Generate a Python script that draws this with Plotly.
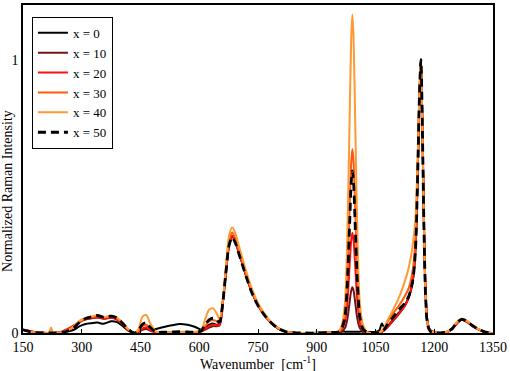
import plotly.graph_objects as go

# Wavenumber grid (cm^-1)
wavenumber = [
    150, 165, 180, 200, 215, 222, 226, 230, 250,
    265, 280, 295, 310, 325, 340, 355, 365, 375, 390, 405, 420, 435,
    445, 455, 465, 475, 490, 510, 530, 550, 570, 590, 605,
    615, 625, 635, 645, 652,
    660, 668, 676, 684, 692, 700, 710, 720, 735, 750, 765, 780, 800, 820, 840,
    870, 900, 930, 955,
    964, 972, 978, 984, 988, 991, 994, 998, 1004, 1010, 1018,
    1030, 1050, 1060, 1066, 1072,
    1080, 1095, 1110, 1125, 1135, 1145, 1152,
    1158, 1162, 1166, 1170, 1174, 1178, 1183, 1190, 1200,
    1215, 1230, 1245, 1258, 1270, 1282, 1295, 1310, 1325, 1340, 1350,
]

x0 = [
    0.012, 0.006, 0.002, 0.0, 0.0, 0.0, 0.0, 0.0, 0.002,
    0.006, 0.012, 0.025, 0.033, 0.036, 0.038, 0.034, 0.038, 0.043, 0.04, 0.025, 0.008, 0.0,
    0.004, 0.014, 0.02, 0.012, 0.015, 0.022, 0.028, 0.033, 0.03, 0.022, 0.012,
    0.02, 0.03, 0.035, 0.03, 0.035,
    0.11, 0.22, 0.32, 0.355, 0.335, 0.3, 0.255, 0.208, 0.148, 0.102, 0.068, 0.043, 0.018, 0.005, 0.001,
    0.0, 0.001, 0.003, 0.004,
    0.005, 0.005, 0.005, 0.005, 0.005, 0.005, 0.005, 0.005, 0.005, 0.005, 0.005,
    0.004, 0.004, 0.01, 0.035, 0.02,
    0.025, 0.05, 0.075, 0.102, 0.132, 0.19, 0.31,
    0.6, 0.86, 1.0, 0.73, 0.37, 0.14, 0.035, 0.008, 0.002,
    0.0, 0.003, 0.015, 0.038, 0.05, 0.044, 0.03, 0.016, 0.006, 0.001, 0.0,
]

x10 = [
    0.012, 0.007, 0.003, 0.001, 0.0, 0.0, 0.0, 0.0, 0.004,
    0.012, 0.024, 0.04, 0.05, 0.054, 0.057, 0.052, 0.054, 0.056, 0.049, 0.031, 0.01, 0.0,
    0.004, 0.012, 0.015, 0.008, 0.003, 0.003, 0.004, 0.004, 0.004, 0.003, 0.005,
    0.012, 0.02, 0.025, 0.025, 0.028,
    0.11, 0.22, 0.32, 0.355, 0.335, 0.3, 0.255, 0.208, 0.148, 0.102, 0.068, 0.043, 0.018, 0.005, 0.001,
    0.0, 0.0, 0.002, 0.004,
    0.006, 0.018, 0.05, 0.114, 0.155, 0.167, 0.155, 0.114, 0.05, 0.018, 0.005,
    0.002, 0.0, 0.002, 0.004, 0.01,
    0.02, 0.044, 0.07, 0.1, 0.13, 0.19, 0.31,
    0.6, 0.86, 1.0, 0.74, 0.38, 0.15, 0.04, 0.01, 0.003,
    0.0, 0.002, 0.013, 0.035, 0.048, 0.042, 0.028, 0.015, 0.005, 0.001, 0.0,
]

x20 = [
    0.012, 0.008, 0.004, 0.002, 0.0, 0.0, 0.0, 0.0, 0.006,
    0.016, 0.028, 0.042, 0.05, 0.055, 0.058, 0.053, 0.055, 0.057, 0.05, 0.032, 0.01, 0.0,
    0.005, 0.016, 0.02, 0.01, 0.003, 0.003, 0.004, 0.004, 0.004, 0.003, 0.006,
    0.015, 0.025, 0.03, 0.028, 0.03,
    0.11, 0.22, 0.32, 0.355, 0.335, 0.3, 0.255, 0.208, 0.148, 0.102, 0.068, 0.043, 0.018, 0.005, 0.001,
    0.0, 0.0, 0.002, 0.004,
    0.012, 0.04, 0.11, 0.25, 0.34, 0.367, 0.34, 0.25, 0.11, 0.04, 0.01,
    0.002, 0.0, 0.002, 0.004, 0.01,
    0.022, 0.048, 0.072, 0.1, 0.13, 0.19, 0.31,
    0.6, 0.86, 1.0, 0.74, 0.38, 0.15, 0.04, 0.01, 0.003,
    0.0, 0.002, 0.013, 0.035, 0.048, 0.042, 0.028, 0.015, 0.005, 0.001, 0.0,
]

x30 = [
    0.012, 0.006, 0.002, 0.0, 0.0, 0.0, 0.0, 0.0, 0.003,
    0.01, 0.022, 0.042, 0.054, 0.058, 0.062, 0.057, 0.059, 0.061, 0.054, 0.034, 0.011, 0.0,
    0.008, 0.025, 0.03, 0.016, 0.004, 0.003, 0.003, 0.004, 0.004, 0.003, 0.008,
    0.025, 0.042, 0.048, 0.042, 0.038,
    0.11, 0.23, 0.335, 0.368, 0.347, 0.31, 0.262, 0.215, 0.152, 0.105, 0.07, 0.044, 0.019, 0.005, 0.001,
    0.0, 0.0, 0.002, 0.004,
    0.02, 0.067, 0.2, 0.46, 0.625, 0.673, 0.625, 0.46, 0.2, 0.067, 0.017,
    0.002, 0.0, 0.002, 0.006, 0.015,
    0.038, 0.072, 0.1, 0.135, 0.165, 0.23, 0.34,
    0.62, 0.87, 1.0, 0.72, 0.36, 0.13, 0.03, 0.006, 0.002,
    0.0, 0.003, 0.015, 0.038, 0.05, 0.044, 0.03, 0.016, 0.006, 0.001, 0.0,
]

x40 = [
    0.012, 0.005, 0.002, 0.0, 0.0, 0.02, 0.0, 0.0, 0.003,
    0.01, 0.025, 0.045, 0.055, 0.06, 0.065, 0.058, 0.06, 0.063, 0.056, 0.036, 0.012, 0.0,
    0.015, 0.06, 0.065, 0.035, 0.005, 0.003, 0.003, 0.004, 0.004, 0.004, 0.01,
    0.05, 0.085, 0.09, 0.07, 0.05,
    0.12, 0.24, 0.355, 0.387, 0.365, 0.325, 0.275, 0.225, 0.16, 0.11, 0.075, 0.046, 0.02, 0.006, 0.001,
    0.0, 0.0, 0.002, 0.005,
    0.03, 0.11, 0.35, 0.79, 1.08, 1.165, 1.08, 0.79, 0.35, 0.11, 0.03,
    0.002, 0.0, 0.003, 0.008, 0.02,
    0.045, 0.085, 0.13, 0.19, 0.24, 0.32, 0.42,
    0.66, 0.88, 1.0, 0.73, 0.37, 0.14, 0.035, 0.008, 0.002,
    0.0, 0.003, 0.016, 0.04, 0.052, 0.046, 0.031, 0.017, 0.006, 0.001, 0.0,
]

x50 = [
    0.012, 0.006, 0.002, 0.0, 0.0, 0.0, 0.0, 0.0, 0.002,
    0.008, 0.02, 0.04, 0.053, 0.059, 0.064, 0.058, 0.06, 0.062, 0.055, 0.035, 0.012, 0.0,
    0.01, 0.032, 0.038, 0.02, 0.004, 0.003, 0.004, 0.005, 0.004, 0.003, 0.008,
    0.03, 0.048, 0.054, 0.046, 0.04,
    0.11, 0.22, 0.32, 0.35, 0.33, 0.295, 0.25, 0.205, 0.145, 0.1, 0.068, 0.042, 0.018, 0.005, 0.001,
    0.0, 0.0, 0.002, 0.004,
    0.018, 0.06, 0.18, 0.4, 0.55, 0.593, 0.55, 0.4, 0.18, 0.06, 0.015,
    0.002, 0.0, 0.002, 0.005, 0.012,
    0.03, 0.058, 0.085, 0.11, 0.135, 0.19, 0.3,
    0.6, 0.86, 1.0, 0.72, 0.36, 0.13, 0.03, 0.006, 0.002,
    0.0, 0.003, 0.015, 0.038, 0.05, 0.044, 0.03, 0.016, 0.006, 0.001, 0.0,
]

series_names = ["x = 0", "x = 10", "x = 20", "x = 30", "x = 40", "x = 50"]
series_values = [x0, x10, x20, x30, x40, x50]
series_colors = ["#000000", "#701515", "#ff1010", "#ff5a10", "#ff9933", "#000000"]
series_dash = ["solid", "solid", "solid", "solid", "solid", "8px,5px"]
series_width = [2, 2, 2, 2, 2, 2.8]

x_ticks = [150, 300, 450, 600, 750, 900, 1050, 1200, 1350]
y_ticks = [0, 1]

FONT = "Liberation Serif"

fig = go.Figure()
for name, vals, col, dash, w in zip(series_names, series_values, series_colors, series_dash, series_width):
    assert len(vals) == len(wavenumber)
    fig.add_trace(go.Scatter(
        x=wavenumber, y=vals, mode="lines", name=name,
        line=dict(color=col, width=w, dash=dash, shape="spline", smoothing=0.8),
    ))

fig.update_layout(
    width=510, height=371,
    margin=dict(l=23, r=17, t=3, b=38),
    paper_bgcolor="white", plot_bgcolor="white",
    font=dict(family=FONT, size=14, color="black"),
    showlegend=True,
    legend=dict(
        x=0.019, y=0.964, xanchor="left", yanchor="top",
        bordercolor="black", borderwidth=1, bgcolor="white",
        font=dict(family=FONT, size=13, color="black"),
        itemwidth=30, tracegroupgap=0,
    ),
    xaxis=dict(
        range=[150, 1350], tickvals=x_ticks, ticktext=[str(t) for t in x_ticks],
        showline=True, linecolor="black", linewidth=1.5, mirror=True,
        ticks="inside", ticklen=4, tickcolor="black", showgrid=False, zeroline=False,
        tickfont=dict(family=FONT, size=14, color="black"),
    ),
    yaxis=dict(
        range=[0, 1.2], tickvals=y_ticks, ticktext=[str(t) for t in y_ticks],
        showline=True, linecolor="black", linewidth=1.5, mirror=True,
        ticks="", showgrid=False, zeroline=False,
        tickfont=dict(family=FONT, size=14, color="black"),
    ),
    annotations=[
        dict(text="Wavenumber  [cm<sup>-1</sup>]", xref="paper", yref="paper",
             x=0.5, y=-0.092, xanchor="center", yanchor="middle", showarrow=False,
             font=dict(family=FONT, size=14, color="black")),
        dict(text="Normalized Raman Intensity", xref="paper", yref="paper",
             x=-0.032, y=0.433, xanchor="center", yanchor="middle", showarrow=False,
             textangle=-90, font=dict(family=FONT, size=14, color="black")),
    ],
)

fig.write_html("out.html", config={"displayModeBar": False},
               post_script="document.body.style.margin='0px';")
